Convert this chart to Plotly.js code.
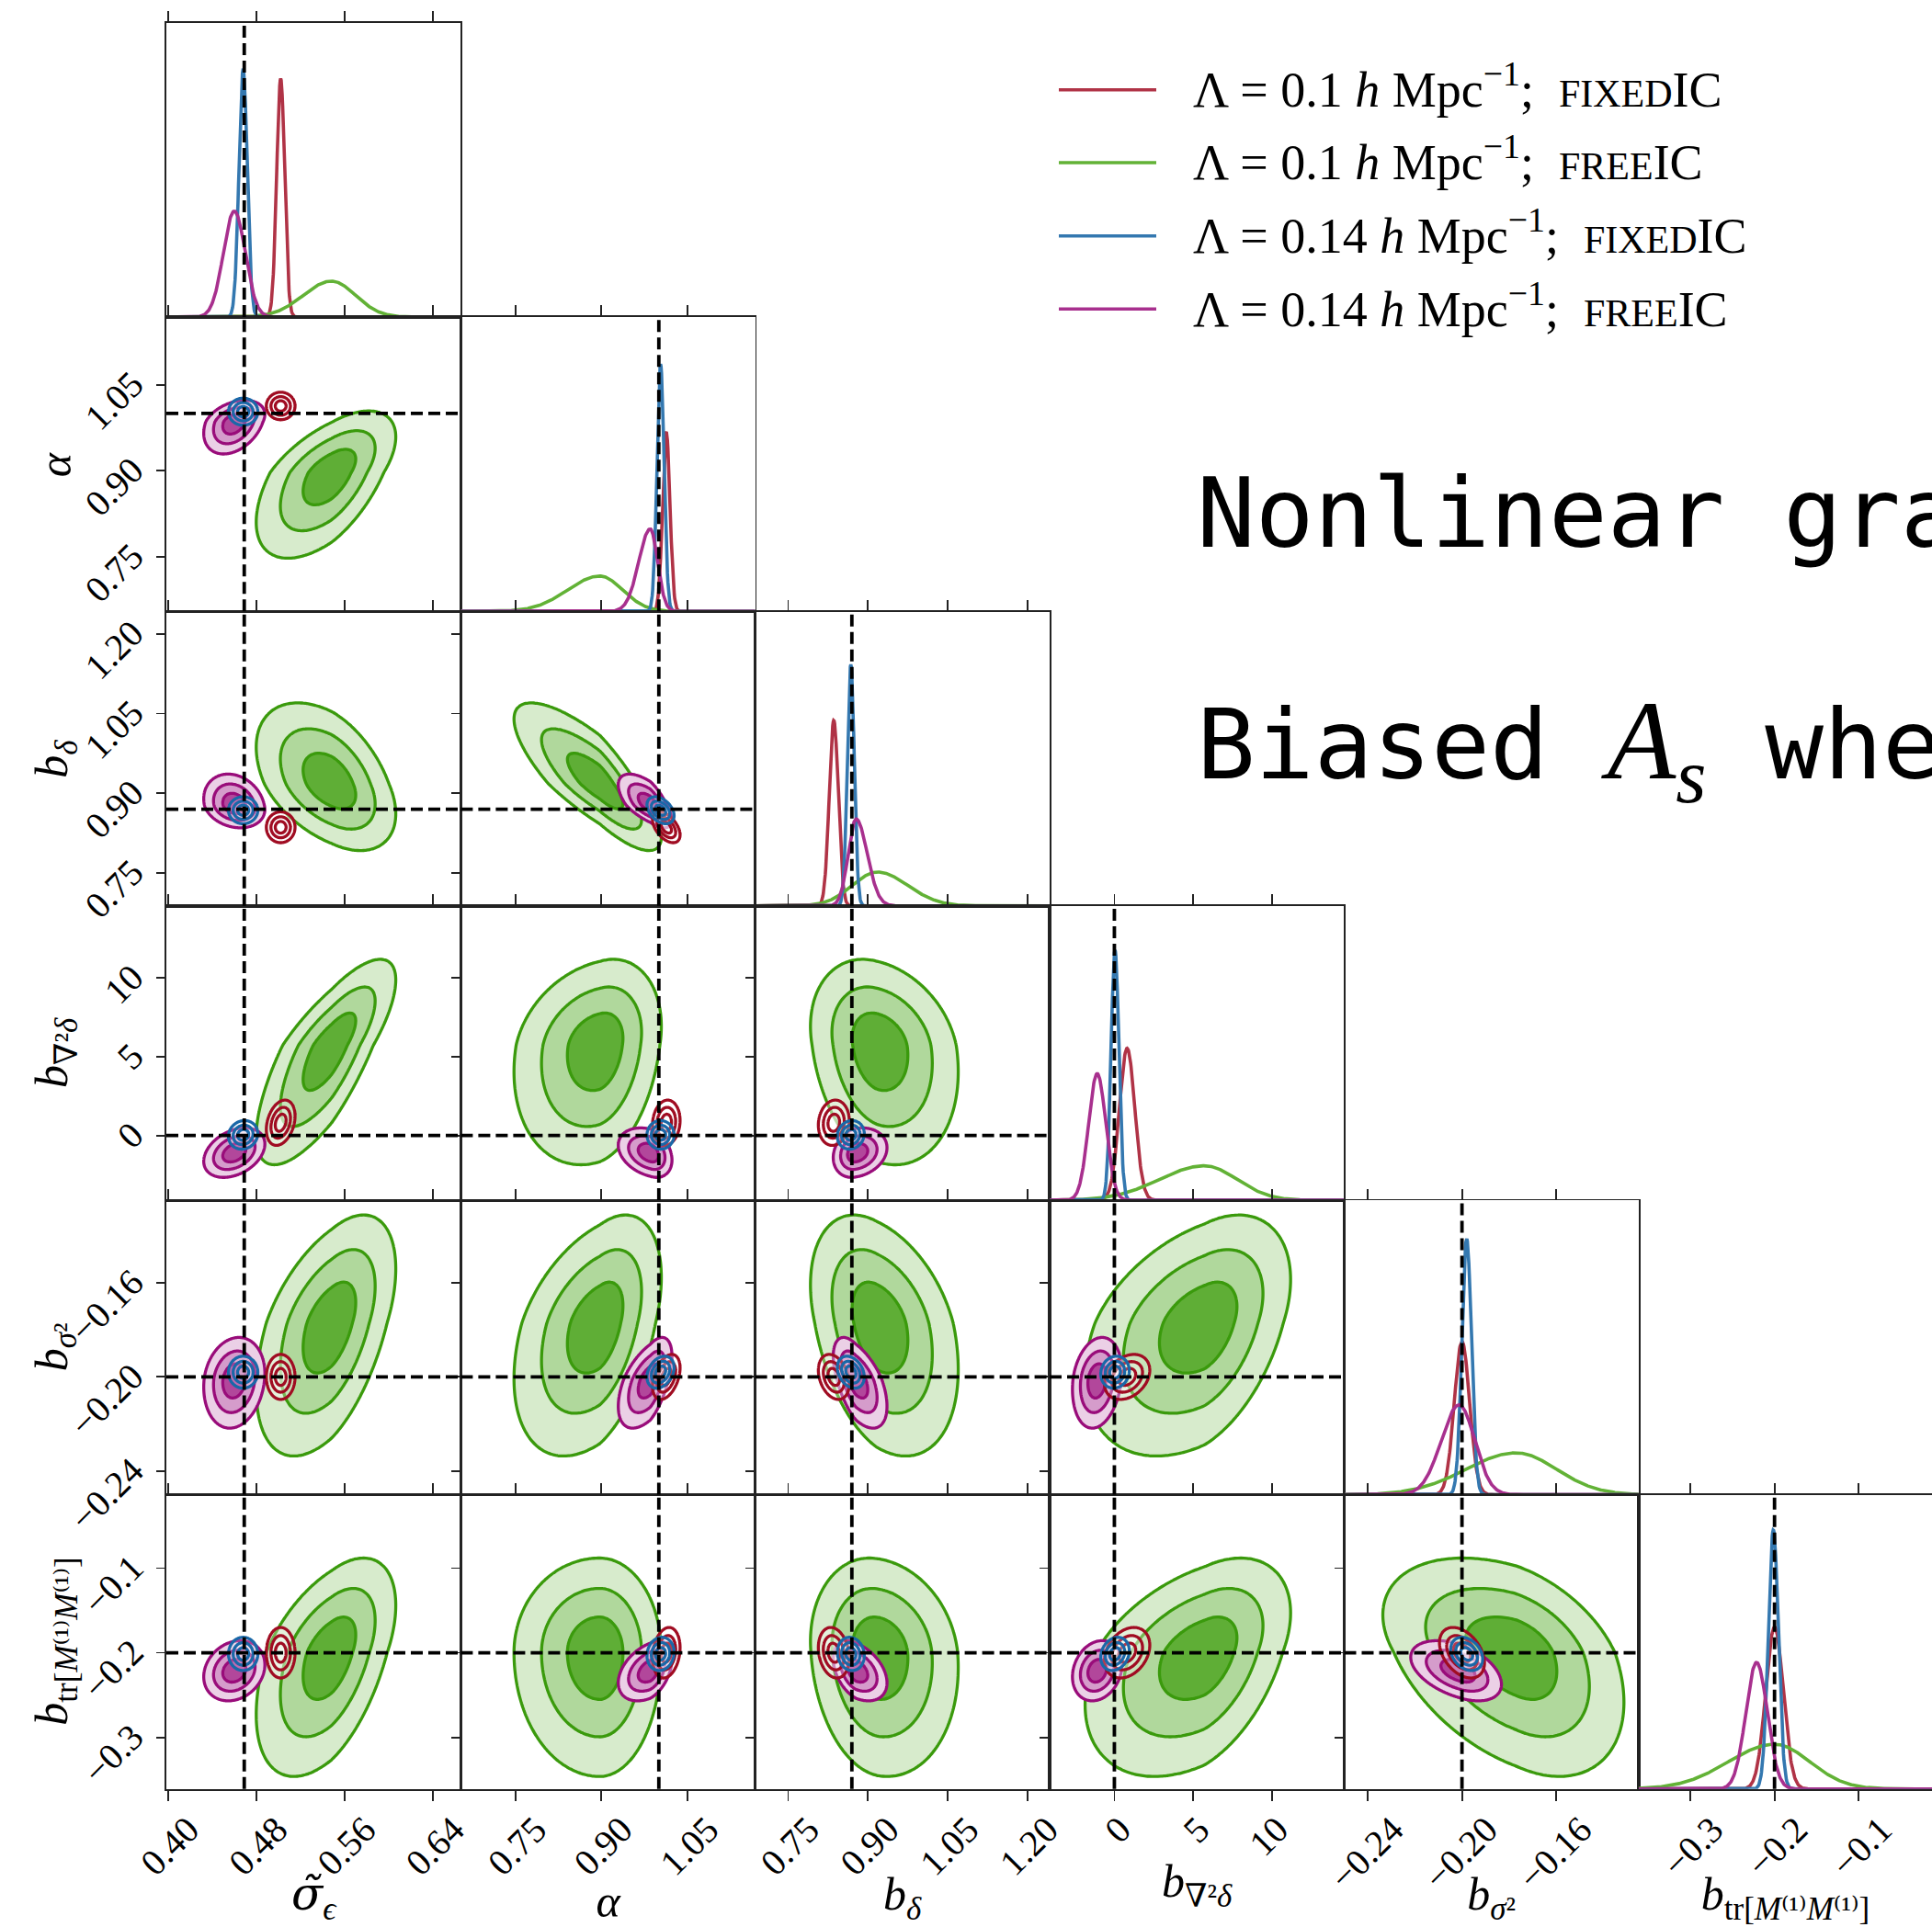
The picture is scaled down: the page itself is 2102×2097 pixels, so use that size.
<!DOCTYPE html>
<html><head><meta charset="utf-8">
<script src="https://cdn.plot.ly/plotly-3.0.1.min.js"></script>
<style>html,body{margin:0;padding:0;background:#fff;}#chart{width:2102px;height:2097px;}</style>
</head><body><div id="chart"></div>
<script>
// ---------------- DATA ----------------
const paramLabels = [
  '<span style="font-family:\'DejaVu Serif\'"><i>σ̃</i></span><sub><i>ϵ</i></sub>',
  '<i>α</i>',
  '<i>b</i><sub><i>δ</i></sub>',
  '<i>b</i><sub>∇²<i>δ</i></sub>',
  '<i>b</i><sub><i>σ</i>²</sub>',
  '<i>b</i><sub>tr[<i>M</i>⁽¹⁾<i>M</i>⁽¹⁾]</sub>'
];
const axisRanges = [[0.3985,0.665],[0.655,1.168],[0.688,1.242],[-4.11,14.58],[-0.25,-0.125],[-0.361,-0.0132]];
const tickValues = [[0.40,0.48,0.56,0.64],[0.75,0.90,1.05],[0.75,0.90,1.05,1.20],[0,5,10],[-0.24,-0.20,-0.16],[-0.3,-0.2,-0.1]];
const tickDecimals = [2,2,2,0,2,1];
const truthValues = [0.469, 1.0, 0.870, 0.0, -0.200, -0.200];

const lambdaValues = ['0.1','0.1','0.14','0.14'];
const icNames = ['FIXED','FREE','FIXED','FREE'];

// series order: red (0.1 fixed), green (0.1 free), blue (0.14 fixed), magenta (0.14 free)
const modeRed     = [0.502, 1.013, 0.836, 0.81, -0.200, -0.200];
const modeGreen   = [0.548, 0.897, 0.918, 5.72, -0.177, -0.200];
const modeBlue    = [0.468, 1.003, 0.868, 0.04, -0.198, -0.2014];
const modeMagenta = [0.460, 0.985, 0.878, -1.09, -0.2012, -0.2213];

const sigLRed     = [0.0036, 0.0064, 0.0085, 0.49, 0.00325, 0.0104];
const sigRRed     = [0.0036, 0.0064, 0.0085, 0.49, 0.00325, 0.0104];
const sigLGreen   = [0.0255, 0.056, 0.047, 2.85, 0.0213, 0.055];
const sigRGreen   = [0.0217, 0.040, 0.057, 2.05, 0.0172, 0.042];
const sigLBlue    = [0.00375, 0.0062, 0.0066, 0.25, 0.00203, 0.0060];
const sigRBlue    = [0.00375, 0.0062, 0.0066, 0.25, 0.00203, 0.0060];
const sigLMagenta = [0.0099, 0.020, 0.0147, 0.545, 0.0076, 0.0127];
const sigRMagenta = [0.0099, 0.0128, 0.0208, 0.545, 0.0066, 0.0127];

const peakRed     = [0.81, 0.61, 0.63, 0.516, 0.52, 0.55];
const peakGreen   = [0.122, 0.12, 0.115, 0.117, 0.142, 0.152];
const peakBlue    = [0.84, 0.84, 0.82, 0.85, 0.87, 0.88];
const peakMagenta = [0.36, 0.28, 0.295, 0.43, 0.305, 0.43];

// correlations for pairs (row,col): (1,0),(2,0),(2,1),(3,0),(3,1),(3,2),(4,0),(4,1),(4,2),(4,3),(5,0),(5,1),(5,2),(5,3),(5,4)
const rhoRed     = [0.0, 0.0, -0.5, 0.3, 0.1, 0.1, 0.0, 0.4, -0.3, 0.3, 0.0, 0.2, -0.2, 0.3, -0.4];
const rhoGreen   = [0.58, -0.45, -0.8, 0.76, 0.22, -0.22, 0.5, 0.42, -0.35, 0.4, 0.5, 0.0, -0.12, 0.42, -0.4];
const rhoBlue    = [0.0, 0.0, -0.4, 0.1, 0.0, 0.1, 0.0, 0.3, -0.3, 0.1, 0.0, 0.1, -0.1, 0.2, -0.3];
const rhoMagenta = [0.35, -0.2, -0.65, 0.35, -0.3, 0.2, 0.15, 0.55, -0.55, 0.2, 0.2, 0.4, -0.4, 0.2, -0.45];

const contourRadii = [2.65, 1.8, 1.0];

// ---------------- STYLE / LAYOUT ----------------
const W = 2102, H = 2097;
const colLeft = [181, 501.4, 821.6, 1142, 1462.5, 1783];
const rowTop = [24.7, 345, 665.5, 985.8, 1306.2, 1626.5];
const PS = 320.3;
const SERIF = 'Liberation Serif, DejaVu Serif, serif';
const xLabelShift = [22, 22, 22, 6, 27, 24];

const series = [
  {mode:modeRed, sl:sigLRed, sr:sigRRed, peak:peakRed, rho:rhoRed, c1d:'#b03346', cline:'#a00c22',
   fills:['rgba(255,255,255,0.3)','rgba(255,255,255,0.3)','rgba(255,255,255,0.3)']},
  {mode:modeGreen, sl:sigLGreen, sr:sigRGreen, peak:peakGreen, rho:rhoGreen, c1d:'#62b236', cline:'#3a9a0c',
   fills:['#d7ebcc','#b0d89c','#5fae36']},
  {mode:modeBlue, sl:sigLBlue, sr:sigRBlue, peak:peakBlue, rho:rhoBlue, c1d:'#3478b0', cline:'#1a68a8',
   fills:['rgba(255,255,255,0.2)','rgba(255,255,255,0.2)','rgba(255,255,255,0.2)']},
  {mode:modeMagenta, sl:sigLMagenta, sr:sigRMagenta, peak:peakMagenta, rho:rhoMagenta, c1d:'#a8308e', cline:'#990c7a',
   fills:['#ebd0e6','#d59ccb','#b2479b']}
];
const order2d = [1, 3, 0, 2];
const order1d = [0, 1, 2, 3];
const smoothPx = 4;

function pxPerUnit(k){ return PS / (axisRanges[k][1] - axisRanges[k][0]); }
function fmtTick(v, d){ return v.toFixed(d).replace('-', '\u2212'); }

const traces = [];
const shapes = [];
const annotations = [];
const layout = {
  width: W, height: H, margin:{l:0,r:0,t:0,b:0},
  paper_bgcolor:'#ffffff', plot_bgcolor:'rgba(0,0,0,0)',
  showlegend:false, font:{family:SERIF, color:'#000'}
};
const dashLine = {color:'#000', width:3.8, dash:'13px,6px'};

let p = 0;
for (let r = 0; r < 6; r++) {
  for (let c = 0; c <= r; c++) {
    p++;
    const xn = p === 1 ? 'x' : 'x' + p;
    const yn = p === 1 ? 'y' : 'y' + p;
    const xk = p === 1 ? 'xaxis' : 'xaxis' + p;
    const yk = p === 1 ? 'yaxis' : 'yaxis' + p;
    const diag = (r === c);
    const xa = {
      domain:[colLeft[c]/W, Math.min(1, (colLeft[c]+PS)/W)],
      range: axisRanges[c].slice(), anchor: yn,
      showgrid:false, zeroline:false, showline:true, linecolor:'#222', linewidth:1.7,
      tickvals: tickValues[c], ticktext: tickValues[c].map(v => fmtTick(v, tickDecimals[c])),
      ticks:'outside', ticklen:11, tickwidth:1.8, tickcolor:'#222', fixedrange:true
    };
    if (r === 5) {
      Object.assign(xa, {side:'bottom', mirror:'ticks', showticklabels:true, tickangle:-45,
        tickfont:{family:SERIF, size:40, color:'#000'}, ticklabelshift:xLabelShift[c], ticklabelstandoff:-8,
        title:{text:paramLabels[c], font:{family:SERIF, size:50, color:'#000'}, standoff:2}});
    } else {
      Object.assign(xa, {side:'top', mirror:true, showticklabels:false});
    }
    const ya = {
      domain:[1 - (rowTop[r]+PS)/H, 1 - rowTop[r]/H], anchor: xn,
      showgrid:false, zeroline:false, showline:true, linecolor:'#222', linewidth:1.7,
      mirror: (c === 5) ? false : true, fixedrange:true
    };
    if (diag) {
      Object.assign(ya, {range:[0,1], ticks:'', showticklabels:false});
    } else {
      Object.assign(ya, {range: axisRanges[r].slice(), side:'left',
        tickvals: tickValues[r], ticktext: tickValues[r].map(v => fmtTick(v, tickDecimals[r])),
        ticks:'outside', ticklen:9, tickwidth:1.8, tickcolor:'#222',
        showticklabels: c === 0});
      if (c === 0) {
        Object.assign(ya, {tickangle:-45, tickfont:{family:SERIF, size:40, color:'#000'}, ticklabelstandoff:18, ticklabelshift:-6});
        annotations.push({xref:'paper', yref:'paper', x:60/W, y:1-(rowTop[r]+PS/2)/H, xanchor:'center', yanchor:'middle',
          textangle:-90, showarrow:false, text:paramLabels[r], font:{family:SERIF, size:50, color:'#000'}});
      }
    }
    layout[xk] = xa; layout[yk] = ya;

    if (diag) {
      const [lo, hi] = axisRanges[c];
      const N = 600;
      order1d.forEach(si => {
        const s = series[si];
        const xs = [], ys = [];
        for (let i = 0; i <= N; i++) {
          const x = lo + (hi - lo) * i / N;
          const sg = x < s.mode[c] ? s.sl[c] : s.sr[c];
          xs.push(x); ys.push(s.peak[c] * Math.exp(-0.5 * Math.pow((x - s.mode[c]) / sg, 2)));
        }
        traces.push({type:'scatter', mode:'lines', x:xs, y:ys, xaxis:xn, yaxis:yn,
          line:{color:s.c1d, width:3.6}, hoverinfo:'skip'});
      });
      shapes.push({type:'line', xref:xn, yref:yn+' domain', x0:truthValues[c], x1:truthValues[c], y0:0, y1:1, line:dashLine});
    } else {
      const pi = r*(r-1)/2 + c;
      const ppx = pxPerUnit(c), ppy = pxPerUnit(r);
      order2d.forEach(si => {
        const s = series[si];
        const mx = s.mode[c], my = s.mode[r];
        const sxl = Math.sqrt(s.sl[c]**2 + (smoothPx/ppx)**2), sxr = Math.sqrt(s.sr[c]**2 + (smoothPx/ppx)**2);
        const syl = Math.sqrt(s.sl[r]**2 + (smoothPx/ppy)**2), syr = Math.sqrt(s.sr[r]**2 + (smoothPx/ppy)**2);
        const rho = s.rho[pi];
        const n = 90;
        const xs = [], ys = [];
        for (let i = 0; i < n; i++) xs.push(mx - 3.4*sxl + (3.4*sxl + 3.4*sxr) * i/(n-1));
        for (let j = 0; j < n; j++) ys.push(my - 3.4*syl + (3.4*syl + 3.4*syr) * j/(n-1));
        const z = ys.map(y => xs.map(x => {
          const u = (x - mx) / (x < mx ? sxl : sxr);
          const v = (y - my) / (y < my ? syl : syr);
          return Math.sqrt((u*u - 2*rho*u*v + v*v) / (1 - rho*rho));
        }));
        contourRadii.forEach((rad, li) => {
          // constraint contours shade the invalid region: '>' shades where z < rad
          traces.push({type:'contour', x:xs, y:ys, z:z, xaxis:xn, yaxis:yn, showscale:false, hoverinfo:'skip',
            contours:{type:'constraint', operation:'>', value:rad},
            fillcolor:s.fills[li], line:{color:s.cline, width:3.3, smoothing:1}});
        });
      });
      shapes.push({type:'line', xref:xn, yref:yn+' domain', x0:truthValues[c], x1:truthValues[c], y0:0, y1:1, line:dashLine});
      shapes.push({type:'line', xref:xn+' domain', yref:yn, x0:0, x1:1, y0:truthValues[r], y1:truthValues[r], line:dashLine});
    }
  }
}

// legend (drawn manually)
const legendY = [97.7, 177, 256.7, 336.3];
series.forEach((s, i) => {
  shapes.push({type:'line', xref:'paper', yref:'paper', x0:1152/W, x1:1258/W, y0:1-legendY[i]/H, y1:1-legendY[i]/H,
    line:{color:s.c1d, width:3.4}});
  annotations.push({xref:'paper', yref:'paper', x:1296/W, y:1-(legendY[i]-4)/H, xanchor:'left', yanchor:'middle', showarrow:false,
    text:`Λ = ${lambdaValues[i]} <i>h</i> Mpc<sup>−1</sup>;\u00a0\u00a0<span style="font-size:42px">${icNames[i]}</span>IC`,
    font:{family:SERIF, size:54, color:'#000'}});
});

// big slide text (cut at the right edge)
annotations.push({xref:'paper', yref:'paper', x:1300/W, y:1-558/H, xanchor:'left', yanchor:'middle', showarrow:false,
  text:'Nonlinear gra', font:{family:'DejaVu Sans Mono, monospace', size:106, color:'#000'}});
annotations.push({xref:'paper', yref:'paper', x:1300/W, y:1-815/H, xanchor:'left', yanchor:'middle', showarrow:false,
  text:'Biased <span style="font-family:\'Liberation Serif\';font-style:italic;font-size:122px">A<sub>s</sub></span> whe',
  font:{family:'DejaVu Sans Mono, monospace', size:106, color:'#000'}});

layout.shapes = shapes;
layout.annotations = annotations;

Plotly.newPlot('chart', traces, layout, {staticPlot:true, displayModeBar:false});
</script>
</body></html>
